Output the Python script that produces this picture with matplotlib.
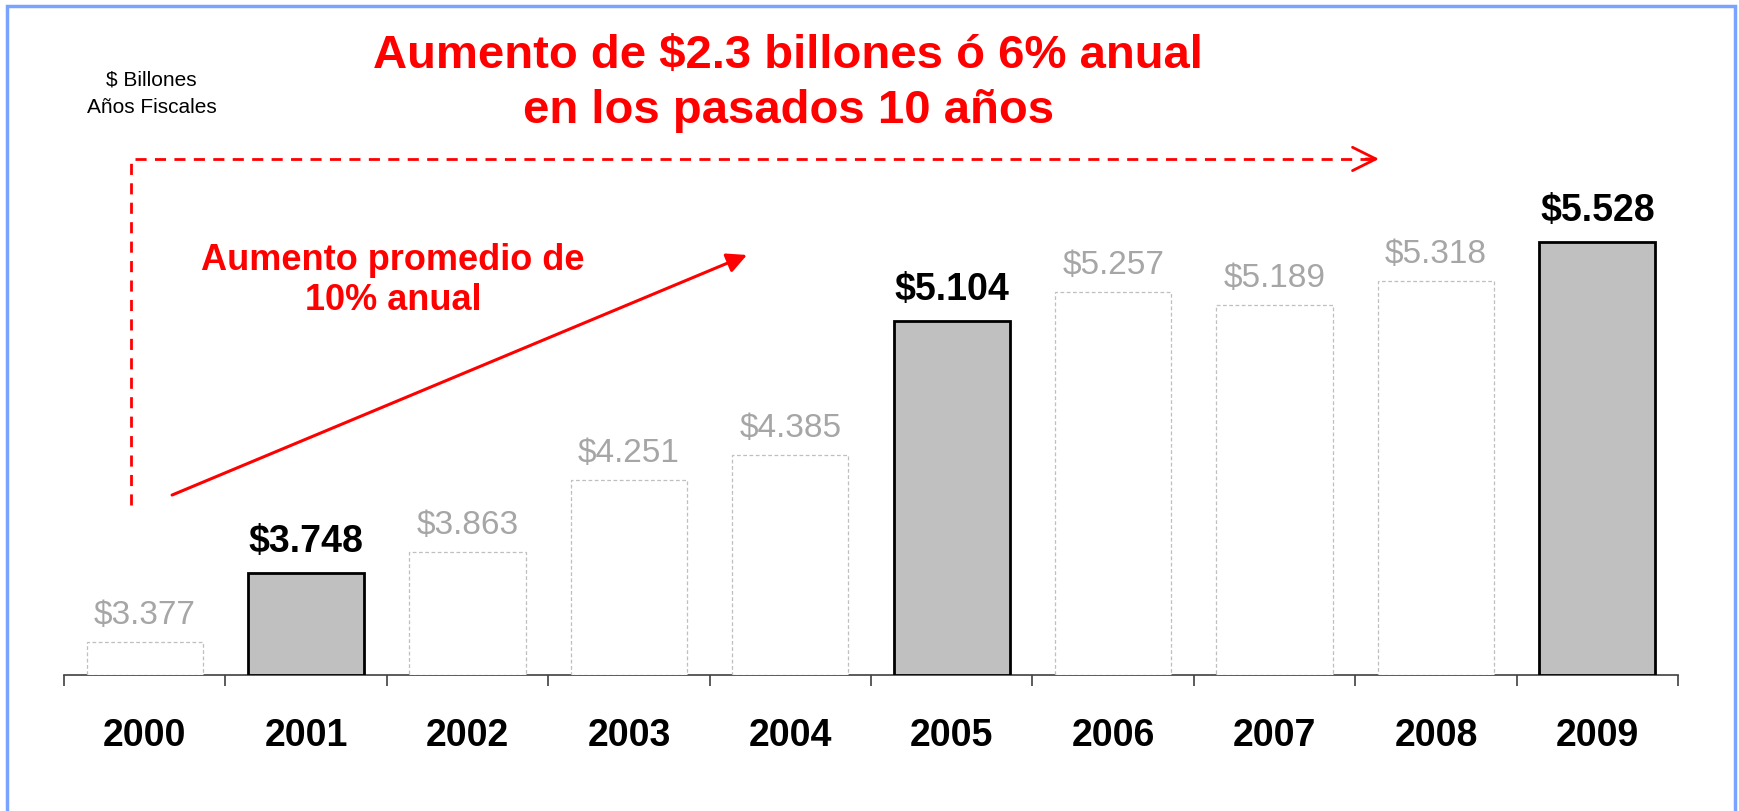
import numpy as np
import matplotlib.pyplot as plt
from matplotlib.lines import Line2D
from matplotlib.patches import Rectangle

plt.rcParams['font.family'] = ['Liberation Sans', 'DejaVu Sans']

# data
years = ['2000', '2001', '2002', '2003', '2004', '2005', '2006', '2007', '2008', '2009']
values = [3.377, 3.748, 3.863, 4.251, 4.385, 5.104, 5.257, 5.189, 5.318, 5.528]
highlight = [False, True, False, False, False, True, False, False, False, True]
value_labels = ['$3.377', '$3.748', '$3.863', '$4.251', '$4.385',
                '$5.104', '$5.257', '$5.189', '$5.318', '$5.528']

title_lines = ['Aumento de $2.3 billones ó 6% anual', 'en los pasados 10 años']
units_lines = ['$ Billones', 'Años Fiscales']
avg_lines = ['Aumento promedio de', '10% anual']

RED = '#FF0000'
LABEL_GRAY = '#A6A6A6'
BASE = 3.2

fig = plt.figure(figsize=(17.4, 8.11), dpi=100)
ax = fig.add_axes([0.0368, 0.1677, 0.9276, 0.642])

x = np.arange(len(years))
for i, (v, hl) in enumerate(zip(values, highlight)):
    if hl:
        ax.bar(x[i], v - BASE, bottom=BASE, width=0.72, color='#C0C0C0',
               edgecolor='black', linewidth=2.0, zorder=3)
        ax.annotate(value_labels[i], (x[i], v), xytext=(0, 15),
                    textcoords='offset points', ha='center', va='baseline',
                    fontsize=27, fontweight='bold', color='black')
    else:
        ax.bar(x[i], v - BASE, bottom=BASE, width=0.72, color='white',
               edgecolor='#BFBFBF', linewidth=0.9, linestyle=(0, (3, 2)), zorder=3)
        ax.annotate(value_labels[i], (x[i], v), xytext=(0, 13),
                    textcoords='offset points', ha='center', va='baseline',
                    fontsize=24, color=LABEL_GRAY)

ax.set_xlim(-0.5, len(years) - 0.5)
ax.set_ylim(BASE, 6.0)
ax.set_xticks(x)
ax.set_xticklabels(years, fontsize=27, fontweight='bold')
ax.set_xticks(np.arange(-0.5, len(years)), minor=True)
ax.tick_params(axis='x', which='major', length=0, pad=31)
ax.tick_params(axis='x', which='minor', length=8, width=1.2, color='#404040',
               direction='out')
ax.set_yticks([])
for side in ['left', 'right', 'top']:
    ax.spines[side].set_visible(False)
ax.spines['bottom'].set_color('#404040')
ax.spines['bottom'].set_linewidth(1.2)
ax.patch.set_alpha(0)

# outer blue frame
fig.add_artist(Rectangle((0.004, -0.02), 0.993, 1.0126, transform=fig.transFigure,
                         fill=False, edgecolor='#7AA2FF', linewidth=2.5))

# titles and notes
fig.text(0.453, 0.931, title_lines[0], ha='center', va='center', fontsize=34,
         fontweight='bold', color=RED)
fig.text(0.453, 0.863, title_lines[1], ha='center', va='center', fontsize=34,
         fontweight='bold', color=RED)
fig.text(0.087, 0.901, units_lines[0], ha='center', va='center', fontsize=15)
fig.text(0.087, 0.868, units_lines[1], ha='center', va='center', fontsize=15)
fig.text(0.226, 0.679, avg_lines[0], ha='center', va='center', fontsize=26,
         fontweight='bold', color=RED)
fig.text(0.226, 0.630, avg_lines[1], ha='center', va='center', fontsize=26,
         fontweight='bold', color=RED)

# dashed L-shaped arrow
fig.add_artist(Line2D([0.0753, 0.0753, 0.790], [0.3773, 0.804, 0.804],
                      transform=fig.transFigure, color=RED, linewidth=2,
                      linestyle=(0, (4, 3))))
ax.annotate('', xy=(0.7925, 0.804), xytext=(0.785, 0.804),
            xycoords='figure fraction', textcoords='figure fraction',
            arrowprops=dict(arrowstyle='->', color=RED, lw=2, mutation_scale=42,
                            shrinkA=0, shrinkB=0))

# solid red arrow
ax.annotate('', xy=(0.4293, 0.6856), xytext=(0.0989, 0.3896),
            xycoords='figure fraction', textcoords='figure fraction',
            arrowprops=dict(arrowstyle='-|>', color=RED, lw=2.2,
                            mutation_scale=30, shrinkA=0, shrinkB=0))

fig.savefig('out.png', dpi=100)
